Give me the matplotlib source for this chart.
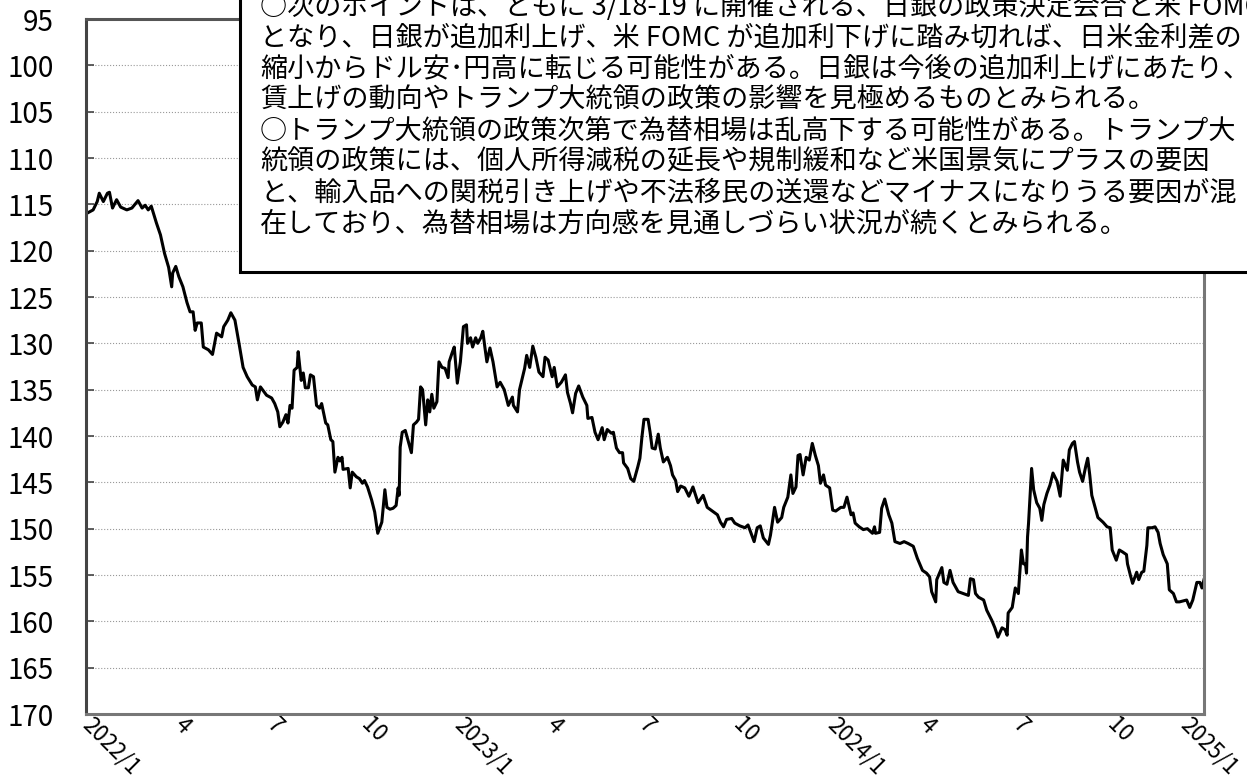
import numpy as np
import matplotlib
matplotlib.use("Agg")
import matplotlib.pyplot as plt
import matplotlib.transforms as mtransforms
from matplotlib.patches import Rectangle

plt.rcParams['font.family'] = ['Noto Sans CJK JP', 'DejaVu Sans']

# ドル円相場（円/ドル）: 2022/1/1 からの経過日数と値
days = [2, 7, 11, 13, 17, 21, 23, 26, 30, 34, 40, 45, 51, 55, 58, 61, 64, 69, 73, 77,
        81, 84, 85, 88, 91, 95, 99, 102, 105, 107, 109, 113, 115, 120, 124, 128, 133, 135, 139, 142,
        146, 150, 154, 158, 163, 166, 168, 171, 177, 182,
        185, 188, 190, 193, 196, 198, 200, 202, 204, 207, 208, 211, 213, 215, 218, 220, 223, 226, 229, 231,
        235, 237, 240, 242, 244, 247, 249, 251, 252, 257, 259, 261, 265, 268, 271, 273, 276, 280, 283, 286,
        290, 293, 295, 298, 301, 304, 306, 307, 308, 310, 313, 316, 319, 321, 324, 326, 328, 330, 333, 335,
        337, 339, 341, 344, 346, 349, 352, 355, 356, 359, 361, 364, 367,
        370, 373, 374, 377, 379, 382, 384, 387, 389, 391, 393, 396, 399, 403, 406, 410, 414, 418, 419, 423,
        425, 428, 430, 432, 435, 438, 441, 444, 448, 450, 453, 457, 459, 462, 466, 470, 472, 475, 477, 480,
        483, 487, 491, 492, 496, 499, 502, 506, 508, 511, 515, 517, 520, 523, 526, 527, 531, 534, 537,
        541, 543, 545, 547, 551, 553, 555, 558, 561, 563, 566, 570, 573, 575, 578, 580, 583, 587, 591, 595,
        600, 605, 609, 614, 619, 622, 625, 628, 633, 636, 641, 646, 649, 652, 655, 658, 661, 664, 669, 671,
        675, 678, 682, 684, 688, 691, 693, 696, 698, 700, 703, 706, 709, 712, 715, 718, 720, 723, 725, 729,
        732, 735, 740, 743, 746, 750, 752, 754, 758, 762, 766, 771, 773, 774, 778, 780, 783, 787, 790, 793,
        798, 802, 806, 811, 815, 820, 824, 827, 829, 833, 834, 839, 841, 844, 847, 850, 855, 860, 865, 867,
        870, 872, 875, 880, 883, 888, 891, 894, 898, 901, 903,
        904, 908, 911, 914, 917, 919, 921, 922, 923, 924, 927, 929, 932, 935, 937, 939, 942, 945, 948, 952,
        955, 958, 962, 964, 967, 969, 972, 974, 977, 980, 982, 984, 986, 990, 992, 997, 1001, 1004, 1006, 1010,
        1013, 1016, 1020, 1021, 1024, 1026, 1030, 1032, 1035, 1037, 1040, 1041, 1045, 1048, 1051, 1053, 1056, 1060, 1062, 1066,
        1069, 1072, 1079, 1082, 1085, 1089, 1092, 1094, 1096]

usdjpy = [115.9, 115.6, 114.7, 113.8, 114.7, 113.8, 113.7, 115.4, 114.5, 115.3, 115.6, 115.4, 114.6, 115.4, 115.1, 115.6, 115.2, 117.0, 118.3, 120.3,
          121.8, 123.9, 122.4, 121.7, 122.8, 123.9, 125.6, 126.6, 126.6, 128.6, 127.8, 127.8, 130.4, 130.7, 131.2, 128.9, 129.3, 128.2, 127.5, 126.7,
          127.5, 130.0, 132.6, 133.6, 134.5, 134.7, 136.1, 134.7, 135.6, 135.9,
          136.5, 137.4, 139.0, 138.5, 137.7, 138.6, 136.7, 137.0, 132.9, 132.6, 130.9, 134.0, 133.2, 134.8, 134.8, 133.4, 133.6, 136.7, 137.0, 136.5,
          138.6, 138.8, 140.4, 140.6, 143.9, 142.3, 142.7, 142.3, 143.6, 143.5, 145.6, 143.9, 144.4, 144.6, 145.1, 144.8, 145.5, 146.9, 148.2, 150.5,
          149.3, 145.8, 147.7, 147.9, 147.8, 147.5, 145.6, 146.4, 141.2, 139.6, 139.4, 140.6, 141.8, 138.8, 138.5, 138.2, 134.7, 135.0, 138.8, 136.1,
          137.4, 135.5, 137.0, 136.3, 132.0, 132.6, 132.7, 133.7, 132.0, 131.0, 130.4, 134.3, 132.0,
          128.2, 128.0, 130.0, 129.4, 130.4, 129.4, 130.0, 129.4, 128.7, 130.4, 132.0, 130.5, 132.0, 134.7, 134.2, 135.0, 136.7, 135.8, 136.7, 137.4,
          135.0, 133.6, 132.7, 131.3, 132.6, 130.3, 131.5, 133.1, 133.6, 131.5, 131.8, 133.6, 132.6, 134.7, 134.2, 133.4, 135.3, 136.5, 137.5, 135.4,
          134.6, 135.8, 136.7, 138.1, 138.0, 139.6, 140.4, 139.1, 140.4, 139.3, 139.7, 139.6, 141.3, 141.8, 141.8, 142.9, 143.5, 144.6, 144.9,
          143.3, 142.4, 140.1, 138.2, 138.2, 139.6, 141.3, 141.4, 139.8, 141.3, 142.8, 142.3, 143.2, 144.2, 144.8, 146.0, 145.4, 145.6, 146.5, 145.5,
          147.2, 146.4, 147.7, 148.1, 148.5, 149.3, 149.8, 149.0, 148.9, 149.4, 149.7, 149.9, 149.6, 150.5, 151.4, 149.9, 149.7, 151.0, 151.7, 150.7,
          147.7, 149.3, 148.8, 147.7, 146.6, 144.2, 146.2, 145.5, 142.1, 142.0, 144.2, 142.3, 142.6, 140.8, 142.1, 143.2, 145.1, 144.2, 145.3, 145.6,
          148.0, 148.1, 147.7, 147.7, 146.6, 148.5, 148.3, 149.4, 149.8, 150.1, 150.0, 150.5, 149.8, 150.5, 150.4, 147.8, 146.8, 148.5, 149.4, 151.4,
          151.6, 151.4, 151.6, 151.9, 153.2, 154.5, 154.8, 155.2, 156.8, 157.9, 155.5, 154.2, 155.8, 156.0, 154.5, 155.8, 156.8, 157.0, 157.2, 155.4,
          155.5, 157.0, 157.4, 157.7, 158.8, 159.9, 160.7, 161.7, 160.7, 160.9, 161.5,
          159.1, 158.5, 156.4, 157.0, 152.3, 153.8, 153.8, 154.8, 150.9, 149.4, 143.5, 145.8, 147.2, 147.8, 149.1, 147.4, 146.2, 145.3, 144.0, 144.9,
          146.5, 142.6, 143.7, 141.5, 140.8, 140.6, 142.8, 143.9, 144.9, 143.3, 142.4, 144.2, 146.4, 148.0, 148.8, 149.3, 149.8, 149.9, 152.3, 153.4,
          152.3, 152.5, 152.8, 153.8, 155.1, 155.9, 154.7, 155.5, 154.7, 154.6, 151.8, 149.9, 149.9, 149.8, 150.4, 151.6, 152.8, 153.8, 156.6, 157.0,
          157.9, 157.9, 157.7, 158.5, 157.7, 155.8, 155.8, 156.4, 155.5]

tick_dates = ['2022-01-01', '2022-04-01', '2022-07-01', '2022-10-01',
              '2023-01-01', '2023-04-01', '2023-07-01', '2023-10-01',
              '2024-01-01', '2024-04-01', '2024-07-01', '2024-10-01', '2025-01-01']
tick_labels = ['2022/1', '4', '7', '10', '2023/1', '4', '7', '10', '2024/1', '4', '7', '10', '2025/1']
y_ticks = list(range(95, 171, 5))

comment_lines = [
    '○次のポイントは、ともに 3/18-19 に開催される、日銀の政策決定会合と米 FOMC',
    'となり、日銀が追加利上げ、米 FOMC が追加利下げに踏み切れば、日米金利差の',
    '縮小からドル安･円高に転じる可能性がある。日銀は今後の追加利上げにあたり、',
    '賃上げの動向やトランプ大統領の政策の影響を見極めるものとみられる。',
    '○トランプ大統領の政策次第で為替相場は乱高下する可能性がある。トランプ大',
    '統領の政策には、個人所得減税の延長や規制緩和など米国景気にプラスの要因',
    'と、輸入品への関税引き上げや不法移民の送還などマイナスになりうる要因が混',
    '在しており、為替相場は方向感を見通しづらい状況が続くとみられる。',
]

W, H = 1247, 781
fig = plt.figure(figsize=(W / 100, H / 100), dpi=100)
ax = fig.add_axes([86 / W, 1 - 714 / H, (1204 - 86) / W, (714 - 19) / H])

x = np.datetime64('2022-01-01') + np.array(days).astype('timedelta64[D]')
ax.plot(x, usdjpy, color='black', lw=2.2, solid_joinstyle='round')

ax.set_xlim(np.datetime64('2022-01-01'), np.datetime64('2025-01-01'))
ax.set_ylim(170, 95)
ax.set_yticks(y_ticks)
ax.set_yticklabels([str(v) for v in y_ticks], fontsize=20)
ax.grid(axis='y', color='#999999', lw=0.8, ls=':')
ax.tick_params(axis='y', direction='in', length=6, width=1.2, color='#444444', pad=23)

ax.set_xticks(np.array(tick_dates, dtype='datetime64[D]'))
ax.set_xticklabels(tick_labels, fontsize=16, rotation=-45, ha='left', va='center',
                   rotation_mode='anchor')
ax.tick_params(axis='x', length=0, pad=5)
# 右端の年ラベルは枠内に収まるよう少し左へ
last = ax.get_xticklabels()[-1]
last.set_transform(last.get_transform() + mtransforms.ScaledTranslation(-20 / 100, 0, fig.dpi_scale_trans))

for s in ax.spines.values():
    s.set_color('#777777')
    s.set_linewidth(2.2)
ax.spines['left'].set_color('#444444')
ax.spines['top'].set_color('#555555')

# コメント欄（右上の枠）
fig.patches.append(Rectangle((240 / W, 1 - 272 / H), 0.9, 0.6, transform=fig.transFigure,
                             facecolor='white', edgecolor='black', lw=2.2, zorder=5))
for i, line in enumerate(comment_lines):
    fig.text(260 / W, 1 - (7 + 31 * i) / H, line, fontsize=19.5, va='center', ha='left', zorder=6)

fig.savefig('out.png', dpi=100)
